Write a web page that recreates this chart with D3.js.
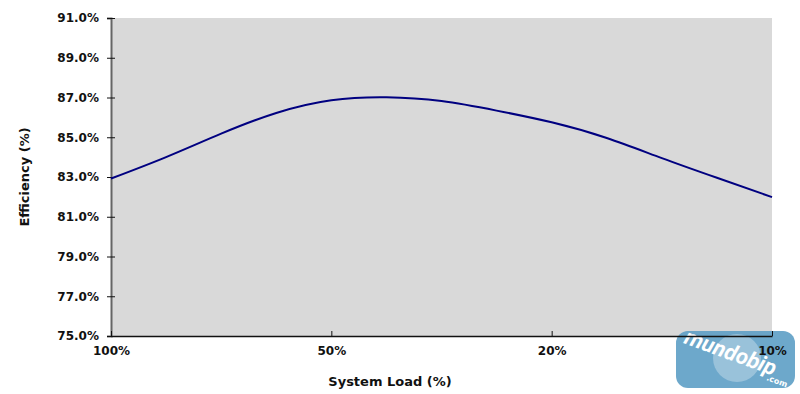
<!DOCTYPE html>
<html>
<head>
<meta charset="utf-8">
<script src="https://d3js.org/d3.v7.min.js"></script>
<style>
  body { margin: 0; background: #fff; }
  text { font-family: 'DejaVu Sans', sans-serif; font-weight: bold; fill: #111; }
</style>
</head>
<body>
<script>
// sample points along the load axis, only some of them get a label
var categories = ['100%', '', '', '', '50%', '', '', '', '20%', '', '', '', '10%']
var efficiency = [82.92, 84.00, 85.18, 86.22, 86.86, 87.01, 86.82, 86.34, 85.75, 84.96, 83.95, 82.96, 81.99]
var yTicks = [75, 77, 79, 81, 83, 85, 87, 89, 91]

var w = 800
var h = 394
var plotLeft = 111, plotRight = 772, plotTop = 18, plotBottom = 336

var svg = d3.select('body').append('svg').attr('width', w).attr('height', h)

var xScale = d3.scalePoint()
    .domain(d3.range(categories.length))
    .range([plotLeft, plotRight])

var yScale = d3.scaleLinear()
    .domain([75, 91])
    .range([plotBottom, plotTop])

// plot area
svg.append('rect')
    .attr('x', plotLeft).attr('y', plotTop)
    .attr('width', plotRight - plotLeft).attr('height', plotBottom - plotTop)
    .attr('fill', '#d9d9d9')

// watermark in the corner
var wm = svg.append('g').attr('opacity', 0.9)
wm.append('rect')
    .attr('x', 676).attr('y', 331).attr('width', 119).attr('height', 57).attr('rx', 12)
    .attr('fill', '#5e9fc6')
wm.append('circle')
    .attr('cx', 737).attr('cy', 358).attr('r', 24)
    .attr('fill', '#ffffff').attr('opacity', 0.3)
wm.append('text')
    .attr('transform', 'translate(683,343) rotate(20)')
    .attr('font-size', 22)
    .style('fill', '#ffffff')
    .style('font-style', 'italic')
    .style('font-family', 'Roboto, sans-serif')
    .text('mundobip')
wm.append('text')
    .attr('transform', 'translate(766,380) rotate(20)')
    .attr('font-size', 8)
    .style('fill', '#ffffff')
    .text('.com')

// y axis
var yAxis = svg.append('g')
    .attr('transform', 'translate(' + plotLeft + ',0)')
    .call(d3.axisLeft(yScale)
        .tickValues(yTicks)
        .tickSize(4)
        .tickFormat(function(d) { return d.toFixed(1) + '%' }))
yAxis.select('.domain').attr('stroke', '#666').attr('stroke-width', 2)
yAxis.selectAll('.tick line').attr('stroke', '#111').attr('x2', 4).attr('x1', -4)
yAxis.selectAll('.tick text')
    .attr('x', -12)
    .attr('font-size', 12)
    .style('font-family', "'DejaVu Sans', sans-serif")
    .style('font-weight', 'bold')
    .style('fill', '#111')

// x axis
var xAxis = svg.append('g')
    .attr('transform', 'translate(0,' + plotBottom + ')')
    .call(d3.axisBottom(xScale)
        .tickValues(d3.range(categories.length).filter(function(i) { return categories[i] != '' }))
        .tickSize(5)
        .tickSizeOuter(0)
        .tickFormat(function(i) { return categories[i] }))
xAxis.select('.domain').attr('stroke', '#111').attr('stroke-width', 1.5)
xAxis.selectAll('.tick line').attr('y1', -5).attr('y2', 0).attr('stroke', '#111')
xAxis.selectAll('.tick text')
    .attr('y', 10)
    .attr('font-size', 12)
    .style('font-family', "'DejaVu Sans', sans-serif")
    .style('font-weight', 'bold')
    .style('fill', '#111')

// the efficiency line
var line = d3.line()
    .x(function(d, i) { return xScale(i) })
    .y(function(d) { return yScale(d) })
    .curve(d3.curveNatural)

svg.append('path')
    .datum(efficiency)
    .attr('d', line)
    .attr('fill', 'none')
    .attr('stroke', '#000080')
    .attr('stroke-width', 2)

// axis titles
svg.append('text')
    .attr('x', 390).attr('y', 386)
    .attr('text-anchor', 'middle')
    .attr('font-size', 13)
    .text('System Load (%)')

svg.append('text')
    .attr('transform', 'translate(29,177) rotate(-90)')
    .attr('text-anchor', 'middle')
    .attr('font-size', 13)
    .text('Efficiency (%)')
</script>
</body>
</html>
